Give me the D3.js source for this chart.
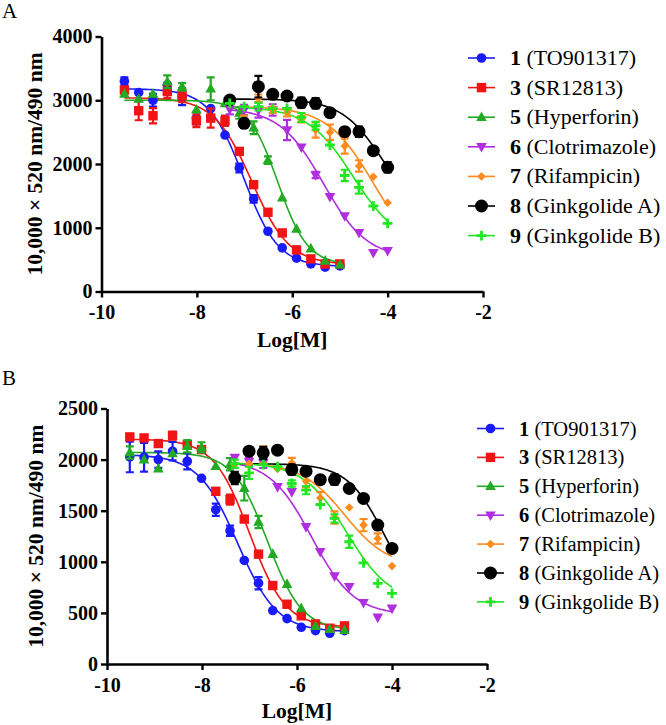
<!DOCTYPE html>
<html>
<head>
<meta charset="utf-8">
<script src="https://cdn.jsdelivr.net/npm/d3@7/dist/d3.min.js"></script>
<style>
  html, body { margin: 0; padding: 0; background: #fff; }
  svg { display: block; }
  svg text { font-family: "Liberation Serif", "Times New Roman", Times, "DejaVu Serif", serif; }
</style>
</head>
<body>
<svg id="chart" width="666" height="725"></svg>
<script>
// ---------------- DATA ----------------
const compoundNums  = ["1", "3", "5", "6", "7", "8", "9"];
const compoundNames = ["(TO901317)", "(SR12813)", "(Hyperforin)", "(Clotrimazole)", "(Rifampicin)", "(Ginkgolide A)", "(Ginkgolide B)"];
const seriesColors  = ["#1a1aff", "#f01414", "#22aa22", "#b02ee0", "#ff8a1e", "#000000", "#22e622"];
const seriesShapes  = ["circle", "square", "triangleUp", "triangleDown", "diamond", "bigCircle", "plus"];

// log[M] doses
const dosesLow  = [-9.52, -9.22, -8.92, -8.62, -8.31, -8.01, -7.71, -7.41, -7.11, -6.81, -6.51, -6.21, -5.91, -5.61, -5.31, -5.0];
const dosesHigh = [-7.31, -7.01, -6.71, -6.41, -6.11, -5.81, -5.51, -5.21, -4.90, -4.60, -4.30, -4.0];
// which dose list each compound uses
const seriesDoseSet = ["low", "low", "low", "high", "high", "high", "high"];

const xTicks  = [-10, -8, -6, -4, -2];
const yTicksA = [0, 1000, 2000, 3000, 4000];
const yTicksB = [0, 500, 1000, 1500, 2000, 2500];

// Panel A values (10,000 x 520 nm/490 nm)
const A1 = [3300, 3120, 3000, 3240, 3055, 2720, 2870, 2454, 1937, 1452, 945, 684, 522, 433, 381, 402];
const A3 = [3160, 2836, 2757, 3138, 3070, 2679, 2720, 2679, 2198, 1676, 1243, 919, 653, 512, 433, 433];
const A5 = [3100, 3020, 3100, 3290, 3210, 2850, 3180, 2950, 2800, 2570, 2060, 1470, 980, 672, 480, 420];
const A6 = [2858, 2847, 2847, 2847, 2533, 2262, 1827, 1487, 1184, 922, 609, 640];
const A7 = [2950, 2680, 3030, 2847, 2805, 2701, 2533, 2500, 2282, 1969, 1801, 1393];
const A8 = [3004, 2638, 3213, 3093, 3067, 2962, 2952, 2805, 2507, 2507, 2209, 1948];
const A9 = [2950, 2900, 2899, 2870, 2873, 2730, 2600, 2298, 1820, 1634, 1341, 1070];
// Panel A error bars (SEM)
const A1err = [60, 0, 100, 0, 130, 100, 0, 0, 70, 60, 0, 0, 0, 0, 0, 0];
const A3err = [0, 150, 120, 100, 100, 100, 150, 80, 0, 0, 0, 0, 0, 0, 0, 0];
const A5err = [0, 0, 0, 100, 60, 0, 180, 0, 90, 100, 60, 0, 0, 0, 0, 0];
const A6err = [80, 80, 120, 90, 160, 0, 50, 0, 0, 0, 0, 0];
const A7err = [0, 80, 60, 50, 60, 50, 120, 120, 120, 90, 0, 0];
const A8err = [0, 70, 170, 60, 0, 80, 80, 0, 0, 80, 0, 80];
const A9err = [0, 0, 60, 0, 0, 70, 60, 0, 90, 100, 0, 0];

// Panel B values
const B1 = [2026, 2023, 2000, 2082, 1984, 1817, 1510, 1304, 1013, 791, 523, 444, 359, 327, 301, 327];
const B3 = [2222, 2212, 2157, 2235, 2147, 2098, 1690, 1608, 1418, 1075, 768, 585, 471, 392, 350, 373];
const B5 = [2070, 2000, 1910, 2060, 2130, 2120, 1935, 1955, 1720, 1390, 1075, 782, 544, 370, 340, 330];
const B6 = [2020, 1978, 1968, 1733, 1684, 1342, 1098, 860, 756, 599, 456, 544];
const B7 = [1951, 1960, 2049, 1908, 1967, 1788, 1624, 1434, 1532, 1359, 1228, 958];
const B8 = [1820, 2082, 2065, 2092, 1902, 1886, 1804, 1805, 1717, 1620, 1359, 1131];
const B9 = [1960, 1870, 1950, 1930, 1766, 1701, 1560, 1424, 1196, 990, 789, 691];
const B1err = [150, 140, 80, 90, 80, 0, 60, 50, 0, 60, 0, 0, 0, 0, 0, 0];
const B3err = [0, 0, 0, 40, 0, 0, 0, 50, 0, 0, 0, 0, 0, 0, 0, 0];
const B5err = [60, 0, 0, 0, 60, 50, 0, 60, 120, 60, 0, 0, 0, 0, 0, 0];
const B6err = [0, 40, 50, 0, 0, 0, 0, 0, 0, 0, 0, 0];
const B7err = [0, 0, 80, 0, 50, 60, 60, 60, 0, 60, 50, 0];
const B8err = [60, 40, 60, 0, 50, 0, 0, 50, 0, 0, 0, 0];
const B9err = [40, 60, 0, 0, 30, 40, 0, 40, 60, 0, 0, 0];

// Fitted 4-parameter logistic curves [top, bottom, logIC50, hill]
const A_fits = [[3180, 390, -7.02, 1.2], [3040, 420, -6.85, 1.1], [3000, 420, -6.30, 1.4],
                [2880, 520, -5.35, 0.95], [2900, 500, -4.30, 0.9], [3020, 1100, -4.10, 1.0], [2900, 700, -4.72, 0.9]];
const B_fits = [[2050, 315, -7.25, 1.05], [2200, 360, -7.00, 1.15], [2070, 330, -6.62, 1.2],
                [2000, 480, -5.69, 0.98], [1970, 950, -5.00, 0.95], [1960, 550, -4.15, 1.1], [1970, 600, -4.95, 0.95]];

// ---------------- DRAWING ----------------
const svg = d3.select("#chart");

function logistic(p, x) {
  const [top, bottom, c, h] = p;
  return bottom + (top - bottom) / (1 + Math.pow(10, h * (x - c)));
}

function drawMarker(g, shape, cx, cy, color) {
  if (shape === "circle") {
    g.append("circle").attr("cx", cx).attr("cy", cy).attr("r", 4.8).attr("fill", color);
  } else if (shape === "bigCircle") {
    g.append("circle").attr("cx", cx).attr("cy", cy).attr("r", 6.5).attr("fill", color);
  } else if (shape === "square") {
    g.append("rect").attr("x", cx - 4.7).attr("y", cy - 4.7).attr("width", 9.4).attr("height", 9.4).attr("fill", color);
  } else if (shape === "triangleUp") {
    g.append("path").attr("d", `M${cx},${cy - 5.8}L${cx + 5.3},${cy + 3.8}L${cx - 5.3},${cy + 3.8}Z`).attr("fill", color);
  } else if (shape === "triangleDown") {
    g.append("path").attr("d", `M${cx},${cy + 5.8}L${cx + 5.3},${cy - 3.8}L${cx - 5.3},${cy - 3.8}Z`).attr("fill", color);
  } else if (shape === "diamond") {
    g.append("path").attr("d", `M${cx},${cy - 4.3}L${cx + 4.3},${cy}L${cx},${cy + 4.3}L${cx - 4.3},${cy}Z`).attr("fill", color);
  } else if (shape === "plus") {
    g.append("path").attr("d", `M${cx - 4.9},${cy}H${cx + 4.9}M${cx},${cy - 4.9}V${cy + 4.9}`)
      .attr("stroke", color).attr("stroke-width", 2.8).attr("fill", "none");
  }
}

function drawPanel(cfg) {
  const { xRange, yRange, yMax, yTicks, values, errors, fits, legend, yTitle, xTitle, panelLabel } = cfg;
  const x = d3.scaleLinear().domain([-10, -2]).range(xRange);
  const y = d3.scaleLinear().domain([0, yMax]).range(yRange);
  const g = svg.append("g");

  // panel letter
  svg.append("text").attr("x", panelLabel.x).attr("y", panelLabel.y)
    .attr("font-size", 21).text(panelLabel.t);

  // axes
  const xAxis = d3.axisBottom(x).tickValues(xTicks).tickSize(6).tickSizeOuter(0).tickPadding(cfg.xPad)
    .tickFormat(d3.format("d"));
  const yAxis = d3.axisLeft(y).tickValues(yTicks).tickSize(6).tickSizeOuter(0).tickPadding(3)
    .tickFormat(d3.format("d"));
  const gx = g.append("g").attr("transform", `translate(0,${yRange[0]})`).call(xAxis);
  const gy = g.append("g").attr("transform", `translate(${xRange[0]},0)`).call(yAxis);
  [gx, gy].forEach(a => {
    a.attr("font-family", null);
    a.select(".domain").attr("stroke", "#000").attr("stroke-width", 2.6);
    a.selectAll(".tick line").attr("stroke", "#000").attr("stroke-width", 2.4);
    a.selectAll(".tick text").attr("fill", "#000")
      .attr("font-weight", "bold").attr("font-size", 20);
  });
  gx.selectAll(".tick text").text(d => d < 0 ? "-" + Math.abs(d) : d);

  // axis titles
  g.append("text").attr("transform", `translate(${yTitle.x},${(yRange[0] + yRange[1]) / 2}) rotate(-90)`)
    .attr("text-anchor", "middle").attr("font-weight", "bold")
    .attr("font-size", 21.5).text("10,000 × 520 nm/490 nm");
  g.append("text").attr("x", (xRange[0] + xRange[1]) / 2).attr("y", xTitle.y)
    .attr("text-anchor", "middle").attr("font-weight", "bold")
    .attr("font-size", 21.5).text("Log[M]");

  // curves
  const line = d3.line().x(d => x(d[0])).y(d => y(d[1]));
  fits.forEach((p, i) => {
    const doses = seriesDoseSet[i] === "low" ? dosesLow : dosesHigh;
    const x0 = doses[0], x1 = doses[doses.length - 1];
    const pts = d3.range(0, 121).map(k => {
      const xv = x0 + (x1 - x0) * k / 120;
      return [xv, logistic(p, xv)];
    });
    g.append("path").datum(pts).attr("d", line).attr("fill", "none")
      .attr("stroke", seriesColors[i]).attr("stroke-width", 1.6);
  });

  // error bars + points
  values.forEach((vals, i) => {
    const doses = seriesDoseSet[i] === "low" ? dosesLow : dosesHigh;
    const errs = errors[i];
    const sg = g.append("g");
    vals.forEach((v, j) => {
      const e = errs[j];
      if (e > 0) {
        const cx = x(doses[j]);
        const yt = y(v + e), yb = y(v - e);
        sg.append("path").attr("d", `M${cx},${yt}V${yb}M${cx - 4},${yt}H${cx + 4}M${cx - 4},${yb}H${cx + 4}`)
          .attr("stroke", seriesColors[i]).attr("stroke-width", 2.2).attr("fill", "none");
      }
    });
    vals.forEach((v, j) => drawMarker(sg, seriesShapes[i], x(doses[j]), y(v), seriesColors[i]));
  });

  // legend
  compoundNums.forEach((num, i) => {
    const ly = legend.y0 + i * legend.dy;
    const lg = svg.append("g");
    lg.append("line").attr("x1", legend.x).attr("x2", legend.x + 27).attr("y1", ly).attr("y2", ly)
      .attr("stroke", seriesColors[i]).attr("stroke-width", 1.6);
    drawMarker(lg, seriesShapes[i], legend.x + 13.5, ly, seriesColors[i]);
    const t = lg.append("text").attr("x", legend.tx).attr("y", ly + 7)
      .attr("font-size", legend.fs).attr("fill", "#000");
    t.append("tspan").attr("font-weight", "bold").text(num);
    t.append("tspan").text(" " + compoundNames[i]);
  });
}

drawPanel({
  xRange: [101.5, 483], yRange: [291.5, 36.5], yMax: 4000, yTicks: yTicksA, xPad: 7,
  values: [A1, A3, A5, A6, A7, A8, A9],
  errors: [A1err, A3err, A5err, A6err, A7err, A8err, A9err],
  fits: A_fits,
  legend: { x: 468, tx: 510, y0: 58, dy: 29.6, fs: 22 },
  yTitle: { x: 42 }, xTitle: { y: 347 },
  panelLabel: { x: 2, y: 18, t: "A" }
});

drawPanel({
  xRange: [107, 487], yRange: [664, 408.5], yMax: 2500, yTicks: yTicksB, xPad: 8,
  values: [B1, B3, B5, B6, B7, B8, B9],
  errors: [B1err, B3err, B5err, B6err, B7err, B8err, B9err],
  fits: B_fits,
  legend: { x: 477, tx: 519, y0: 428.5, dy: 28.9, fs: 20.5 },
  yTitle: { x: 43 }, xTitle: { y: 718 },
  panelLabel: { x: 2, y: 385, t: "B" }
});
</script>
</body>
</html>
